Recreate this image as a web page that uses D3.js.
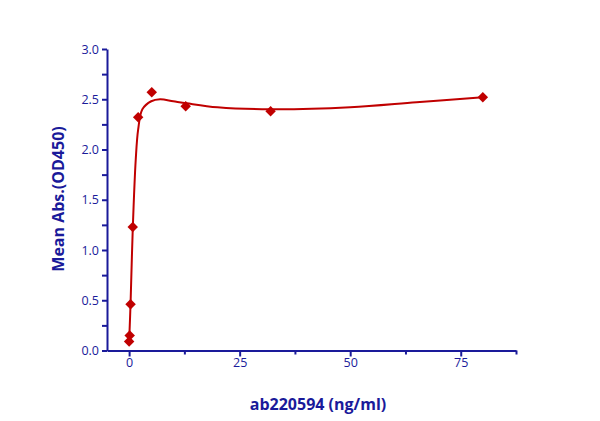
<!DOCTYPE html><html><head><meta charset="utf-8"><script src="https://cdn.jsdelivr.net/npm/d3@7"></script>
<style>body{margin:0;background:#fff}</style></head><body><svg id="c" width="600" height="421"></svg><script>
const concX=[0,0.131,0.328,0.819,2.048,5.12,12.8,32,80];
const absY=[0.09,0.15,0.46,1.23,2.32,2.57,2.43,2.38,2.52];
const fitX=[0,0.33,0.82,1.5,2.05,3,5,7,10,13,20,32,50,65,80];
const fitY=[0.08,0.47,1.2,1.9,2.2,2.4,2.48,2.5,2.48,2.46,2.42,2.4,2.42,2.47,2.52];
const xTicks=[0,25,50,75], yTicks=[0,0.5,1,1.5,2,2.5,3];
const navy="#1a1a9a", red="#c00000";
const svg=d3.select("#c");
const x=d3.scaleLinear().domain([-5,87.5]).range([107,516]);
const y=d3.scaleLinear().domain([0,3]).range([350.5,49]);
const xa=svg.append("g").attr("transform","translate(0,350.5)").call(d3.axisBottom(x).tickValues(d3.range(0,87.6,12.5)).tickSize(5).tickSizeOuter(0).tickFormat(d=>xTicks.includes(d)?d:""));
const ya=svg.append("g").attr("transform","translate(107,0)").call(d3.axisLeft(y).tickValues(d3.range(0,3.01,0.25)).tickSize(5).tickSizeOuter(0).tickFormat(d=>yTicks.some(t=>Math.abs(t-d)<1e-9)?d.toFixed(1):""));
[xa,ya].forEach(a=>{a.selectAll("path,line").attr("stroke",navy).attr("stroke-width",2);a.selectAll("text").attr("fill",navy).attr("font-family","Open Sans, sans-serif").attr("font-size",12.5);});
xa.selectAll("line").attr("y2",d=>xTicks.includes(d)?6:4);
svg.append("path").datum(fitX.map((v,i)=>[v,fitY[i]])).attr("fill","none").attr("stroke",red).attr("stroke-width",2)
 .attr("d",d3.line().x(d=>x(d[0])).y(d=>y(d[1])).curve(d3.curveCatmullRom));
svg.selectAll(".p").data(concX).enter().append("path").attr("fill",red)
 .attr("transform",(d,i)=>`translate(${x(d)},${y(absY[i])})`).attr("d",d3.symbol(d3.symbolDiamond2,70));
svg.append("text").attr("x",318).attr("y",410).attr("text-anchor","middle").attr("fill",navy).attr("font-family","Open Sans, sans-serif").attr("font-weight","bold").attr("font-size",16).text("ab220594 (ng/ml)");
svg.append("text").attr("transform","translate(64,199) rotate(-90)").attr("text-anchor","middle").attr("fill",navy).attr("font-family","Open Sans, sans-serif").attr("font-weight","bold").attr("font-size",16).text("Mean Abs.(OD450)");
</script></body></html>
